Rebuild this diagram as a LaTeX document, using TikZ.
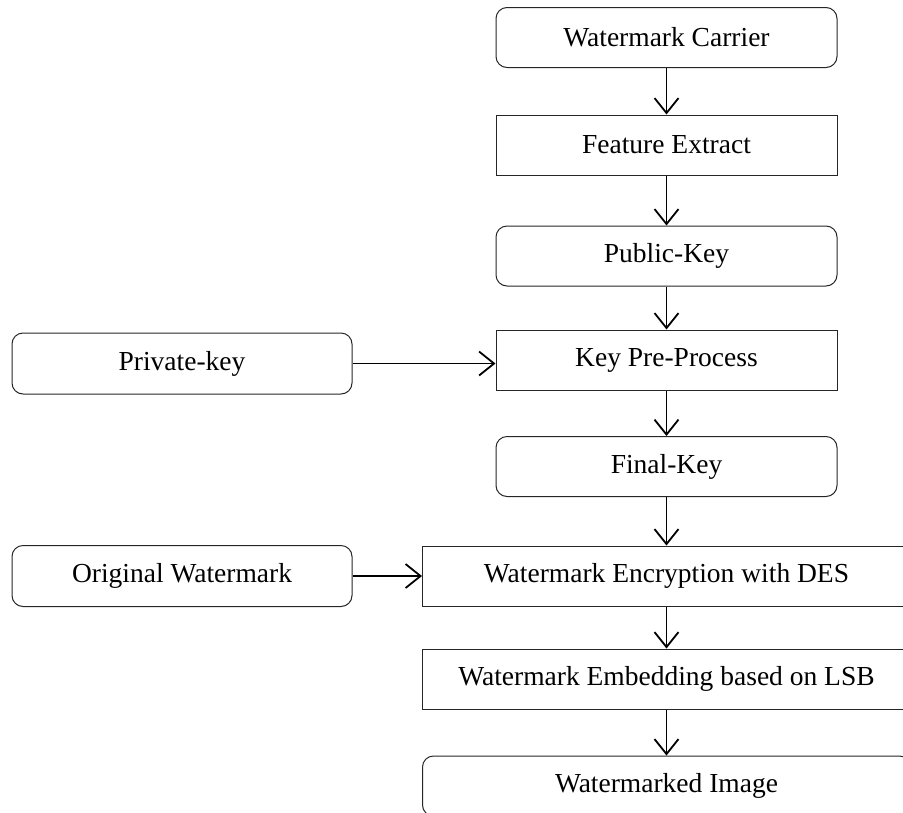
\documentclass[tikz,border=0pt]{standalone}
\usepackage{fontspec}
\setmainfont{Liberation Serif}
\usetikzlibrary{arrows.meta}
\begin{document}
\begin{tikzpicture}[x=1pt,y=-1pt,
  box/.style={draw=black!85, line width=1pt, minimum height=60pt, inner sep=0pt, font=\fontsize{27.5}{32}\selectfont, anchor=center},
  rbox/.style={box, rounded corners=11pt},
  narrow/.style={minimum width=341pt},
  wide/.style={minimum width=488pt},
  side/.style={minimum width=340pt, minimum height=61pt},
  flow/.style={line width=1.8pt, -{Straight Barb[length=15pt,width=24pt,line width=1.8pt]}}]
\useasboundingbox (0,0) rectangle (903,812);
\clip (0,0) rectangle (903,812);
\node[rbox,narrow] (carrier) at (666.5,37.5) {Watermark Carrier};
\node[box,narrow] (feature) at (666.5,145) {Feature Extract};
\node[rbox,narrow] (public) at (666.5,256) {Public-Key};
\node[box,narrow] (keypre) at (666.5,360) {Key Pre-Process};
\node[rbox,side] (private) at (182,363.5) {Private-key};
\node[rbox,narrow] (final) at (666.5,466.5) {Final-Key};
\node[box,wide] (des) at (666.5,576) {Watermark Encryption with DES};
\node[rbox,side] (orig) at (182,576) {Original Watermark};
\node[box,wide] (lsb) at (666.5,679) {Watermark Embedding based on LSB};
\node[rbox,wide] (wimg) at (666.5,786) {Watermarked Image};
\draw[flow] (carrier.south) -- (feature.north);
\draw[flow] (feature.south) -- (public.north);
\draw[flow] (public.south) -- (keypre.north);
\draw[flow] (private.east) -- (keypre.west |- private.east);
\draw[flow] (keypre.south) -- (final.north);
\draw[flow] (final.south) -- (des.north);
\draw[flow] (orig.east) -- (des.west);
\draw[flow] (des.south) -- (lsb.north);
\draw[flow] (lsb.south) -- (wimg.north);
\end{tikzpicture}
\end{document}
